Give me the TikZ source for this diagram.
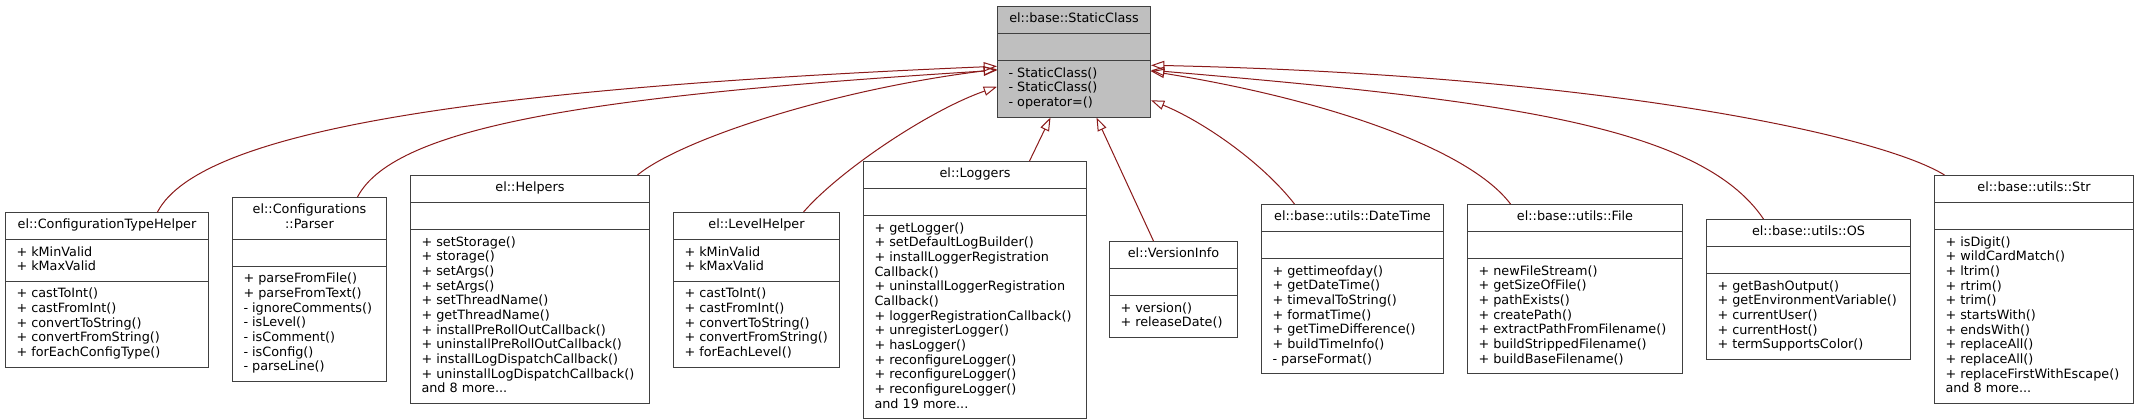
\documentclass[tikz,border=0pt]{standalone}
\usepackage{fontspec}
\setmainfont{DejaVu Sans}
\usetikzlibrary{arrows.meta,shapes.multipart,calc}
\definecolor{dxedge}{HTML}{8B1A1A}
\definecolor{dxgray}{HTML}{BFBFBF}
\definecolor{dxline}{HTML}{404040}
\newcommand{\mlines}[1]{\begin{tabular}{@{}l@{}}#1\end{tabular}}
\newcommand{\tlines}[1]{\begin{tabular}{@{}c@{}}#1\end{tabular}}
\tikzset{
  dxclass/.style={
    rectangle split, rectangle split parts=3,
    rectangle split part align={center,left,left},
    draw=dxline, line width=0.75pt, fill=white, anchor=north west,
    inner xsep=8.25pt, inner ysep=4.27pt, minimum width=#1*0.75pt,
    font=\fontsize{9.6}{11}\selectfont},
  dxbase/.style={dxclass=#1, fill=dxgray},
  dxinherit/.style={-{Triangle[open,length=10pt,width=7pt]}, draw=dxedge,
    line width=0.75pt},
}

\begin{document}
\begin{tikzpicture}[x=0.75pt,y=-0.75pt]

\fill[white] (0,0) rectangle (2138,419);

\node[dxbase=153] (sc) at (997,6)
  {\tlines{el::base::StaticClass}\nodepart{two}\strut
   \nodepart{three}\mlines{- StaticClass()\\- StaticClass()\\- operator=()}};

\node[dxclass=203] (cth) at (5,212)
  {\tlines{el::ConfigurationTypeHelper}
   \nodepart{two}\mlines{+ kMinValid\\+ kMaxValid}
   \nodepart{three}\mlines{+ castToInt()\\+ castFromInt()\\+ convertToString()\\+ convertFromString()\\+ forEachConfigType()}};
\node[dxclass=154] (cfgp) at (232,197)
  {\tlines{el::Configurations\\::Parser}
   \nodepart{two}\strut
   \nodepart{three}\mlines{+ parseFromFile()\\+ parseFromText()\\- ignoreComments()\\- isLevel()\\- isComment()\\- isConfig()\\- parseLine()}};
\node[dxclass=239] (hlp) at (410,175)
  {\tlines{el::Helpers}
   \nodepart{two}\strut
   \nodepart{three}\mlines{+ setStorage()\\+ storage()\\+ setArgs()\\+ setArgs()\\+ setThreadName()\\+ getThreadName()\\+ installPreRollOutCallback()\\+ uninstallPreRollOutCallback()\\+ installLogDispatchCallback()\\+ uninstallLogDispatchCallback()\\and 8 more...}};
\node[dxclass=166] (lvl) at (673,212)
  {\tlines{el::LevelHelper}
   \nodepart{two}\mlines{+ kMinValid\\+ kMaxValid}
   \nodepart{three}\mlines{+ castToInt()\\+ castFromInt()\\+ convertToString()\\+ convertFromString()\\+ forEachLevel()}};
\node[dxclass=223] (lgr) at (863,161)
  {\tlines{el::Loggers}
   \nodepart{two}\strut
   \nodepart{three}\mlines{+ getLogger()\\+ setDefaultLogBuilder()\\+ installLoggerRegistration\\Callback()\\+ uninstallLoggerRegistration\\Callback()\\+ loggerRegistrationCallback()\\+ unregisterLogger()\\+ hasLogger()\\+ reconfigureLogger()\\+ reconfigureLogger()\\+ reconfigureLogger()\\and 19 more...}};
\node[dxclass=128] (ver) at (1109,241)
  {\tlines{el::VersionInfo}
   \nodepart{two}\strut
   \nodepart{three}\mlines{+ version()\\+ releaseDate()}};
\node[dxclass=182] (dtm) at (1261,204)
  {\tlines{el::base::utils::DateTime}
   \nodepart{two}\strut
   \nodepart{three}\mlines{+ gettimeofday()\\+ getDateTime()\\+ timevalToString()\\+ formatTime()\\+ getTimeDifference()\\+ buildTimeInfo()\\- parseFormat()}};
\node[dxclass=215] (fil) at (1467,204)
  {\tlines{el::base::utils::File}
   \nodepart{two}\strut
   \nodepart{three}\mlines{+ newFileStream()\\+ getSizeOfFile()\\+ pathExists()\\+ createPath()\\+ extractPathFromFilename()\\+ buildStrippedFilename()\\+ buildBaseFilename()}};
\node[dxclass=204] (os) at (1706,219)
  {\tlines{el::base::utils::OS}
   \nodepart{two}\strut
   \nodepart{three}\mlines{+ getBashOutput()\\+ getEnvironmentVariable()\\+ currentUser()\\+ currentHost()\\+ termSupportsColor()}};
\node[dxclass=199] (str) at (1934,175)
  {\tlines{el::base::utils::Str}
   \nodepart{two}\strut
   \nodepart{three}\mlines{+ isDigit()\\+ wildCardMatch()\\+ ltrim()\\+ rtrim()\\+ trim()\\+ startsWith()\\+ endsWith()\\+ replaceAll()\\+ replaceAll()\\+ replaceFirstWithEscape()\\and 8 more...}};

% inheritance edges
\foreach \n/\dx/\e/\dy/\ax/\ay/\bx/\by in {
    cth/50.5/west/4.5/200/130/480/88,
    cfgp/48/west/8.5/395/125/600/95,
    hlp/107.5/west/7.5/680/140/830/90,
    lvl/47/west/25/840/170/930/110,
    dtm/-58/east/38.5/1260/160/1200/120,
    fil/-64.5/east/9.5/1470/150/1330/100,
    os/-45/east/8.5/1700/125/1500/100,
    str/-89.5/east/3.5/1880/135/1600/75}
  \draw[dxinherit] ($(\n.north)+(\dx,0)$) .. controls (\ax,\ay) and (\bx,\by) .. ($(sc.\e)+(0,\dy)$);
\draw[dxinherit] ($(lgr.north)+(54.5,0)$) -- ($(sc.south)+(-23.5,0)$);
\draw[dxinherit] ($(ver.north)+(-20,0)$) -- ($(sc.south)+(22.5,0)$);

\end{tikzpicture}
\end{document}
